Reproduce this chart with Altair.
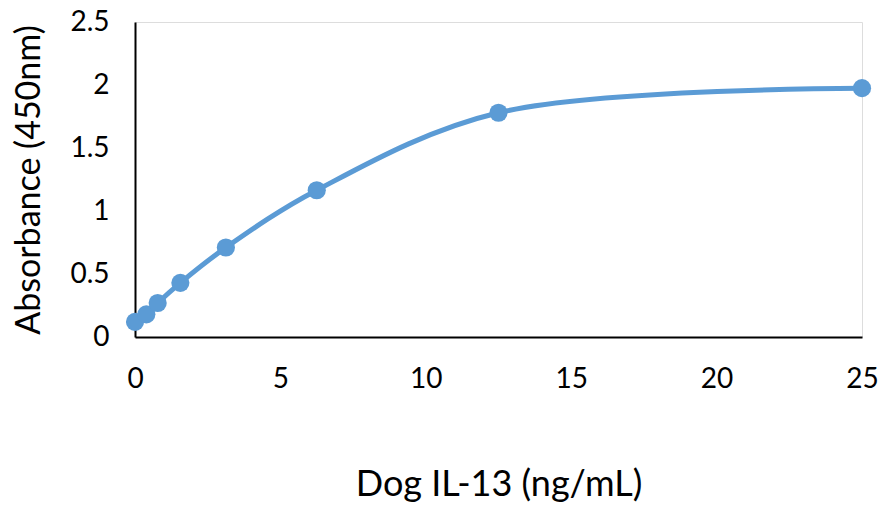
import altair as alt
import pandas as pd

conc = [0, 0.39, 0.78, 1.56, 3.125, 6.25, 12.5, 25]
absorb = [0.12, 0.18, 0.27, 0.43, 0.71, 1.165, 1.78, 1.975]

df = pd.DataFrame({"conc": conc, "abs": absorb})

FONT = "Lato"
COLOR = "#5B9BD5"

x = alt.X("conc:Q", scale=alt.Scale(domain=[0, 25], nice=False),
          axis=alt.Axis(title="Dog IL-13 (ng/mL)", values=[0, 5, 10, 15, 20, 25],
                        ticks=False, grid=False, domainColor="black", domainWidth=2,
                        labelFontSize=28, labelPadding=28, labelColor="black",
                        labelFlush=False, labelOverlap=False, format="~g",
                        titleFontSize=36, titleFontWeight="normal", titleColor="black",
                        titlePadding=74, labelFont=FONT, titleFont=FONT))
y = alt.Y("abs:Q", scale=alt.Scale(domain=[0, 2.5], nice=False),
          axis=alt.Axis(title="Absorbance (450nm)", values=[0, 0.5, 1, 1.5, 2, 2.5],
                        ticks=False, grid=False, domainColor="black", domainWidth=2,
                        labelFontSize=28, labelPadding=26, labelColor="black",
                        labelFlush=False, labelOverlap=False, format="~g",
                        titleFontSize=34, titleFontWeight="normal", titleColor="black",
                        titlePadding=23, labelFont=FONT, titleFont=FONT))

line = alt.Chart(df).mark_line(color=COLOR, strokeWidth=5, interpolate="catmull-rom").encode(x=x, y=y)
pts = alt.Chart(df).mark_circle(color=COLOR, size=330, opacity=1).encode(x=x, y=y)

chart = (line + pts).properties(
    width=727, height=315,
    autosize=alt.AutoSizeParams(type="none"),
    padding={"left": 127, "top": 14, "right": 19, "bottom": 170},
).configure_view(stroke=None).configure(background="white")

chart.save("out.html", embed_options={"renderer": "svg", "actions": False})
